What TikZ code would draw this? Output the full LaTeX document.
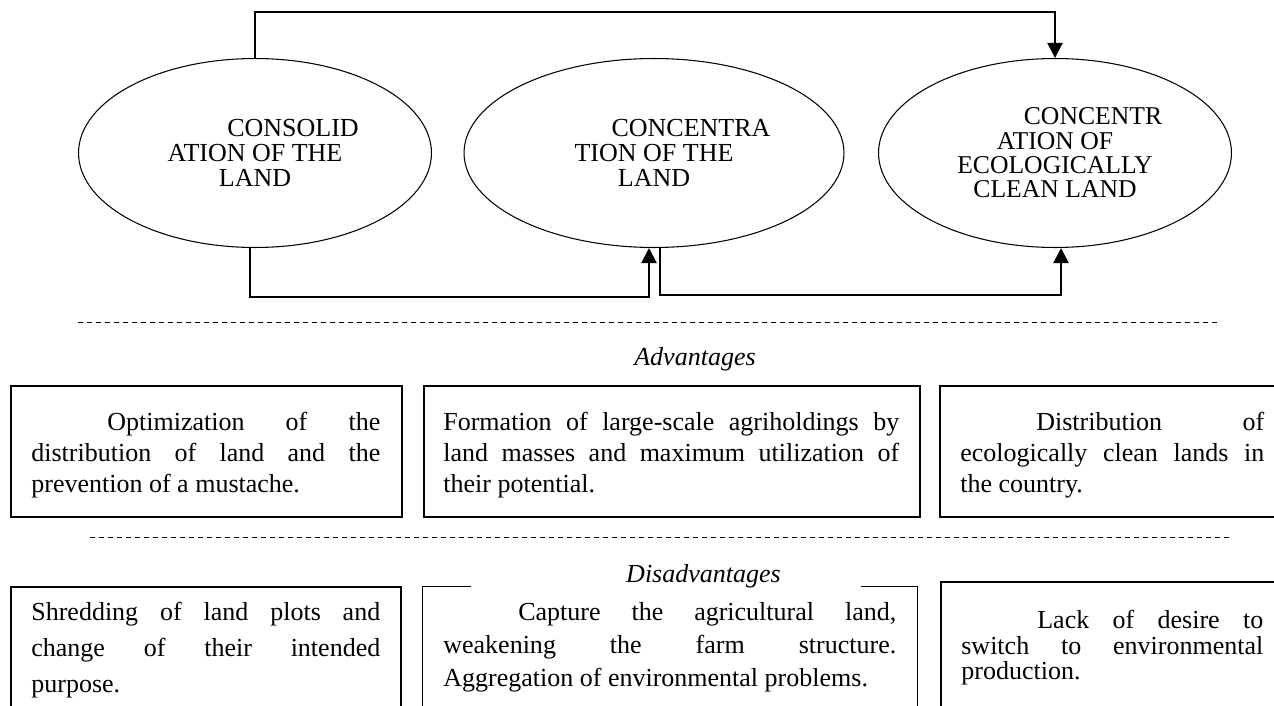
\documentclass[tikz,border=0pt]{standalone}
\usepackage{fontspec}
\setmainfont{Liberation Serif}
\usetikzlibrary{shapes.geometric,arrows.meta,calc}

\begin{document}
\begin{tikzpicture}[x=0.02cm,y=-0.02cm]
   \tikzstyle{every node}=[inner sep=0pt]
   \tikzstyle{stage}=[draw, ellipse, line width=0.6pt, minimum width=7.06cm, minimum height=3.78cm, align=center, font=\fontsize{14.8}{14.2}\selectfont]
   \tikzstyle{link}=[line width=1.2pt, -{Triangle[length=0.3cm,width=0.3cm]}]
   \tikzstyle{panel}=[draw, line width=0.7pt, minimum height=2.62cm]
   \tikzstyle{para}=[anchor=north west, align=justify, font=\fontsize{14.8}{17.6}\selectfont]
   \tikzstyle{head}=[anchor=base, font=\fontsize{14.8}{14.8}\selectfont\itshape]
   \tikzstyle{sep}=[line width=0.5pt, dash pattern=on 0.1cm off 0.08cm]

\useasboundingbox (0,0) rectangle (1274,706);

\node[stage] (consol) at (255,153) {\hspace*{1.52cm}CONSOLID\\ATION OF THE\\LAND};
\node[stage, minimum width=7.6cm] (concen) at (654,153) {\hspace*{1.48cm}CONCENTRA\\TION OF THE\\LAND};
\node[stage, font=\fontsize{14.6}{13.8}\selectfont] (clean) at (1055,153) {\hspace*{1.52cm}CONCENTR\\ATION OF\\ECOLOGICALLY\\CLEAN LAND};

\draw[link] (consol.north) -- ++(0,-46) -| (clean.north);
\draw[link] ($(consol.south)+(-5,0)$) -- ++(0,49) -| ($(concen.south)+(-5,0)$);
\draw[link] ($(concen.south)+(6,0)$) -- ++(0,47) -| ($(clean.south)+(6,0)$);

\draw[sep] (78,322) -- (1220,322);
\node[head] (advhead) at (695,365) {Advantages};

\node[panel, minimum width=7.82cm] (adv1) at (206.5,451.5) {};
\node[panel, minimum width=9.92cm] (adv2) at (672,451.5) {};
\node[panel, minimum width=7cm] (adv3) at (1115,451.5) {};
\node[para, text width=6.98cm] (adv1txt) at (31,412) {\hspace*{1.52cm}Optimization of the\linebreak distribution of land and the\linebreak prevention of a mustache.};
\node[para, text width=9.12cm] (adv2txt) at (443,412) {Formation of large-scale agriholdings by\linebreak land masses and maximum utilization of\linebreak their potential.};
\node[para, text width=6.08cm] (adv3txt) at (960,412) {\hspace*{1.52cm}Distribution of\linebreak ecologically clean lands in\linebreak the country.};

\draw[sep] (90,537) -- (1232,537);
\node[head] (dishead) at (703.5,582) {Disadvantages};

\node[panel, minimum width=7.8cm, minimum height=2.86cm] (dis1) at (206,658.5) {};
\node[minimum width=9.88cm, minimum height=2.86cm] (dis2) at (670,658.5) {};
\draw[line width=0.7pt] ($(dis2.north west)+(48,0)$) -- (dis2.north west) -- (dis2.south west) -- (dis2.south east) -- (dis2.north east) -- ($(dis2.north east)+(-56,0)$);
\node[panel, minimum width=6.98cm, minimum height=2.96cm] (dis3) at (1115.5,656) {};
\node[para, text width=6.98cm, font=\fontsize{14.8}{20.5}\selectfont] (dis1txt) at (31,602) {Shredding of land plots and\linebreak change of their intended\linebreak purpose.};
\node[para, text width=9.06cm, font=\fontsize{14.8}{18.8}\selectfont] (dis2txt) at (443,602) {\hspace*{1.5cm}Capture the agricultural land,\linebreak weakening the farm structure.\linebreak Aggregation of environmental problems.};
\node[para, text width=6.04cm, font=\fontsize{14.8}{14.6}\selectfont] (dis3txt) at (961,610) {\hspace*{1.52cm}Lack of desire to\linebreak switch to environmental\linebreak production.};

\end{tikzpicture}
\end{document}
